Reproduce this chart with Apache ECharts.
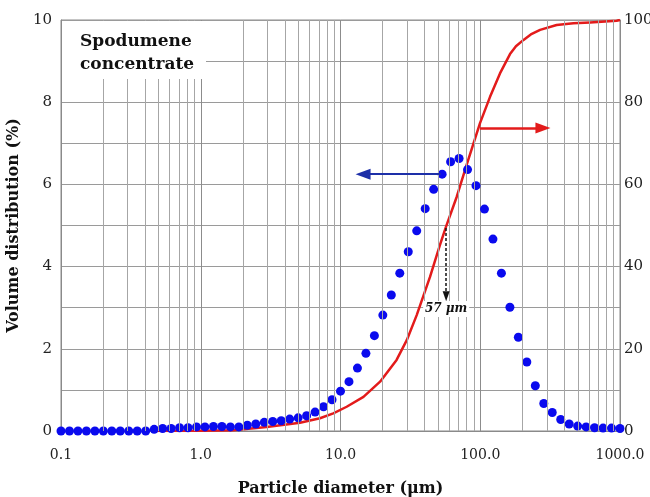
<!DOCTYPE html>
<html><head><meta charset="utf-8">
<script src="https://cdn.jsdelivr.net/npm/echarts@6/dist/echarts.min.js"></script>
<style>html,body{margin:0;padding:0;background:#fff}#c{width:650px;height:497px}</style>
</head><body><div id="c"></div>
<script>
// Particle diameters (µm) of the measured size classes
const diameters = [0.1, 0.1150, 0.1322, 0.1520, 0.1748, 0.2009, 0.2310, 0.2656, 0.3054, 0.3511,
  0.4037, 0.4642, 0.5337, 0.6136, 0.7055, 0.8111, 0.9326, 1.072, 1.233, 1.417,
  1.630, 1.874, 2.154, 2.477, 2.848, 3.275, 3.765, 4.329, 4.977, 5.722,
  6.579, 7.565, 8.697, 10.00, 11.50, 13.22, 15.20, 17.48, 20.09, 23.10,
  26.56, 30.54, 35.11, 40.37, 46.42, 53.37, 61.36, 70.55, 81.11, 93.26,
  107.2, 123.3, 141.7, 163.0, 187.4, 215.4, 247.7, 284.8, 327.5, 376.5,
  432.9, 497.7, 572.2, 657.9, 756.5, 869.7, 1000];
// Volume distribution (%) per class
const volumeDist = [0, 0, 0, 0, 0, 0, 0, 0, 0, 0,
  0, 0.04, 0.06, 0.06, 0.08, 0.08, 0.10, 0.10, 0.11, 0.11,
  0.10, 0.10, 0.14, 0.17, 0.21, 0.23, 0.25, 0.29, 0.32, 0.37,
  0.46, 0.59, 0.76, 0.97, 1.20, 1.53, 1.89, 2.32, 2.82, 3.31,
  3.84, 4.36, 4.87, 5.41, 5.88, 6.25, 6.55, 6.63, 6.36, 5.97,
  5.40, 4.67, 3.84, 3.01, 2.28, 1.68, 1.10, 0.67, 0.45, 0.28,
  0.17, 0.12, 0.10, 0.08, 0.07, 0.07, 0.06];
// Cumulative curve (%), read at these diameters
const cumDiam = [0.45, 1.0, 1.71, 2.96, 5.13, 7.13, 8.88, 11.07, 14.6, 19.2, 25.2, 29.8, 35.1, 43.7, 51.5, 57, 67.9, 80.0, 99.6, 117.5, 138.4, 163.3, 180, 203, 230, 268, 352, 464, 610, 946, 1000];
const cumPct  = [0, 0.05, 0.2, 1.0, 2.0, 3.1, 4.3, 5.9, 8.3, 12, 17.3, 22.1, 28.2, 37.5, 45.3, 49.8, 57.0, 64.8, 74.9, 81.3, 87, 91.7, 93.6, 95.1, 96.5, 97.6, 98.8, 99.2, 99.4, 99.8, 100];
// Minor log grid lines
const minorGrid = [0.2,0.3,0.4,0.5,0.6,0.7,0.8,0.9, 2,3,4,5,6,7,8,9, 20,30,40,50,60,70,80,90, 200,300,400,500,600,700,800,900];
// Annotations (data coordinates)
const blueArrow = [[52, 6.25], [14.5, 6.25]];
const redArrow = [[99.5, 73.7], [281, 73.7]];
const d50Arrow = [[57, 4.94], [57, 3.28]];
const d50Label = [57, 2.97];
const d50Text = '57 μm';
const sampleName = 'Spodumene\nconcentrate';

const FONT = 'DejaVu Serif';
const chart = echarts.init(document.getElementById('c'), null, {renderer: 'canvas'});
chart.setOption({
  animation: false,
  backgroundColor: '#fff',
  grid: {left: 61, right: 30, top: 20, bottom: 66, containLabel: false, outerBoundsMode: 'none',
    show: true, borderColor: '#8a8a8a', borderWidth: 1},
  xAxis: {
    type: 'log', logBase: 10, min: 0.1, max: 1000,
    name: 'Particle diameter (μm)', nameLocation: 'middle', nameGap: 50,
    nameTextStyle: {fontFamily: FONT, fontWeight: 'bold', fontSize: 16, color: '#111'},
    axisLine: {show: true, lineStyle: {color: '#8a8a8a'}},
    axisTick: {show: false},
    axisLabel: {fontFamily: FONT, fontSize: 14, color: '#222', margin: 17,
      formatter: v => Number(v).toFixed(1)},
    splitLine: {show: true, lineStyle: {color: '#8c8c8c', width: 1}}
  },
  yAxis: [{
    type: 'value', min: 0, max: 10, interval: 2,
    name: 'Volume distribution (%)', nameLocation: 'middle', nameGap: 35,
    nameTextStyle: {fontFamily: FONT, fontWeight: 'bold', fontSize: 16, color: '#111'},
    axisLine: {show: true, lineStyle: {color: '#8a8a8a'}},
    axisTick: {show: false},
    axisLabel: {fontFamily: FONT, fontSize: 15, color: '#222', margin: 9},
    splitLine: {show: true, lineStyle: {color: '#9a9a9a'}},
    minorTick: {show: false, splitNumber: 2},
    minorSplitLine: {show: true, lineStyle: {color: '#9a9a9a'}}
  }, {
    type: 'value', min: 0, max: 100, interval: 20, position: 'right',
    axisLine: {show: true, lineStyle: {color: '#8a8a8a'}},
    axisTick: {show: false},
    axisLabel: {fontFamily: FONT, fontSize: 15, color: '#222', margin: 4},
    splitLine: {show: false}
  }],
  graphic: [{
    type: 'rect', left: 62, top: 21, z: 100,
    shape: {width: 144, height: 58}, style: {fill: '#fff'}
  }, {
    type: 'text', left: 80, top: 30, z: 101,
    style: {text: sampleName, fontFamily: FONT, fontWeight: 'bold', fontSize: 17, fill: '#111', lineHeight: 23}
  }],
  series: [{
    type: 'line', data: [[0.1, 0]], symbol: 'none', silent: true, z: 1,
    lineStyle: {opacity: 0},
    markLine: {
      silent: true, symbol: 'none', label: {show: false},
      lineStyle: {color: '#a6a6a6', width: 1, type: 'solid'},
      data: minorGrid.map(v => ({xAxis: v}))
    }
  }, {
    type: 'line', yAxisIndex: 1, z: 3,
    data: cumDiam.map((d, i) => [d, cumPct[i]]),
    symbol: 'none', smooth: false,
    lineStyle: {color: '#e31b1b', width: 2.5, join: 'round'},
    markLine: {
      silent: true, label: {show: false},
      data: [[
        {coord: redArrow[0], symbol: 'none'},
        {coord: redArrow[1], symbol: 'triangle', symbolSize: [11, 15]}
      ]],
      lineStyle: {color: '#e31b1b', width: 2.5, type: 'solid'}
    }
  }, {
    type: 'scatter', z: 4,
    data: diameters.map((d, i) => [d, volumeDist[i]]),
    symbol: 'circle', symbolSize: 9,
    itemStyle: {color: '#0a0aee', opacity: 1},
    markLine: {
      silent: true, label: {show: false},
      data: [
        [{coord: blueArrow[0], symbol: 'none', lineStyle: {color: '#1d2fa8', width: 2.2, type: 'solid'}},
         {coord: blueArrow[1], symbol: 'triangle', symbolSize: [11, 15]}],
        [{coord: d50Arrow[0], symbol: 'none', lineStyle: {color: '#111', width: 1.5, type: [3, 2]}},
         {coord: d50Arrow[1], symbol: 'triangle', symbolSize: [7, 10]}]
      ]
    },
    markPoint: {
      silent: true,
      data: [{coord: d50Label, symbol: 'rect', symbolSize: [46, 16], itemStyle: {color: '#fff'},
        label: {show: true, position: 'inside', formatter: d50Text, fontFamily: FONT, fontStyle: 'italic', fontWeight: 'bold', fontSize: 12, color: '#111'}}]
    }
  }]
});
</script></body></html>
